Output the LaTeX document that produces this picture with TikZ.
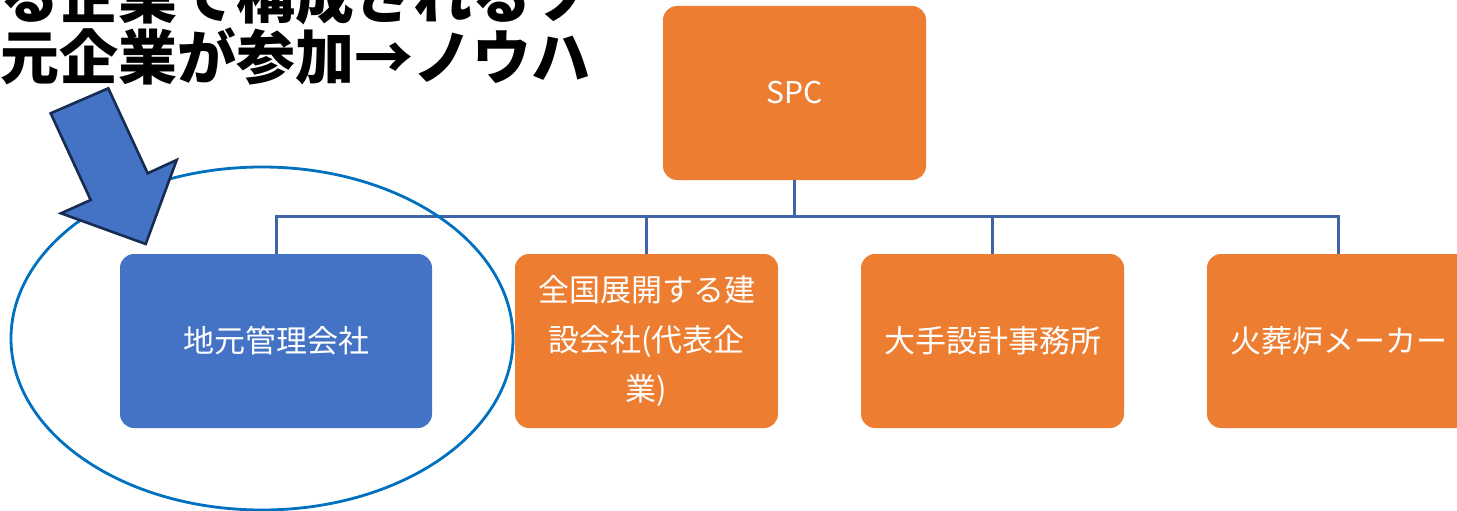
\documentclass[tikz,border=0pt]{standalone}
\usepackage{fontspec}
\newfontfamily\cjk{Noto Sans CJK JP}
\definecolor{boxorange}{HTML}{ED7D31}
\definecolor{boxblue}{HTML}{4472C4}
\definecolor{linkblue}{HTML}{3F64A8}
\definecolor{ringblue}{HTML}{0070C0}
\definecolor{arrowedge}{HTML}{172C51}
\tikzset{
  orgbox/.style={rounded corners=14pt, minimum width=263pt, minimum height=174pt,
    inner sep=0pt, text=white, font=\cjk\fontsize{31}{49.5}\selectfont, align=center},
  link/.style={draw=linkblue, line width=3pt},
  headline/.style={anchor=base west, inner sep=0pt, font=\cjk\bfseries\fontsize{59}{62}\selectfont}
}
\begin{document}
\begin{tikzpicture}[x=1pt,y=-1pt]
\clip (0,0) rectangle (1457,511);
\fill[white] (0,0) rectangle (1457,511);
% nodes
\node[orgbox, fill=boxorange, font=\cjk\fontsize{30}{36}\selectfont] (spc) at (794.5,93) {SPC};
\node[orgbox, fill=boxblue, minimum width=312pt] (local) at (276,341) {\raisebox{2pt}{地元管理会社}};
\node[orgbox, fill=boxorange] (build) at (646.5,341) {全国展開する建\\設会社(代表企\\業)};
\node[orgbox, fill=boxorange] (design) at (992.5,341) {\raisebox{2pt}{大手設計事務所}};
\node[orgbox, fill=boxorange] (maker) at (1338.5,341) {\raisebox{2pt}{火葬炉メーカー}};
% connectors
\coordinate (bus) at (794.5,216);
\draw[link] (spc.south) -- (bus);
\draw[link] (spc.south |- bus) -| (local.north);
\draw[link] (spc.south |- bus) -| (build.north);
\draw[link] (spc.south |- bus) -| (design.north);
\draw[link] (spc.south |- bus) -| (maker.north);
% ellipse
\draw[ringblue, line width=2.8pt] (262,338.5) ellipse [x radius=251, y radius=171.5];
% block arrow
\draw[fill=boxblue, draw=arrowedge, line width=2.6pt, line join=miter]
  (50.7,113.3) -- (108.3,88.3) -- (147.7,173.3) -- (176.7,160) -- (145.7,244)
  -- (61,213.3) -- (90.7,200) -- cycle;
% headline text (clipped at top and edges, as in the reference)
\node[headline] (t1) at (0,19) {る企業で構成されるソ};
\node[headline] (t2) at (0,80) {元企業が参加→ノウハ};
\end{tikzpicture}
\end{document}
